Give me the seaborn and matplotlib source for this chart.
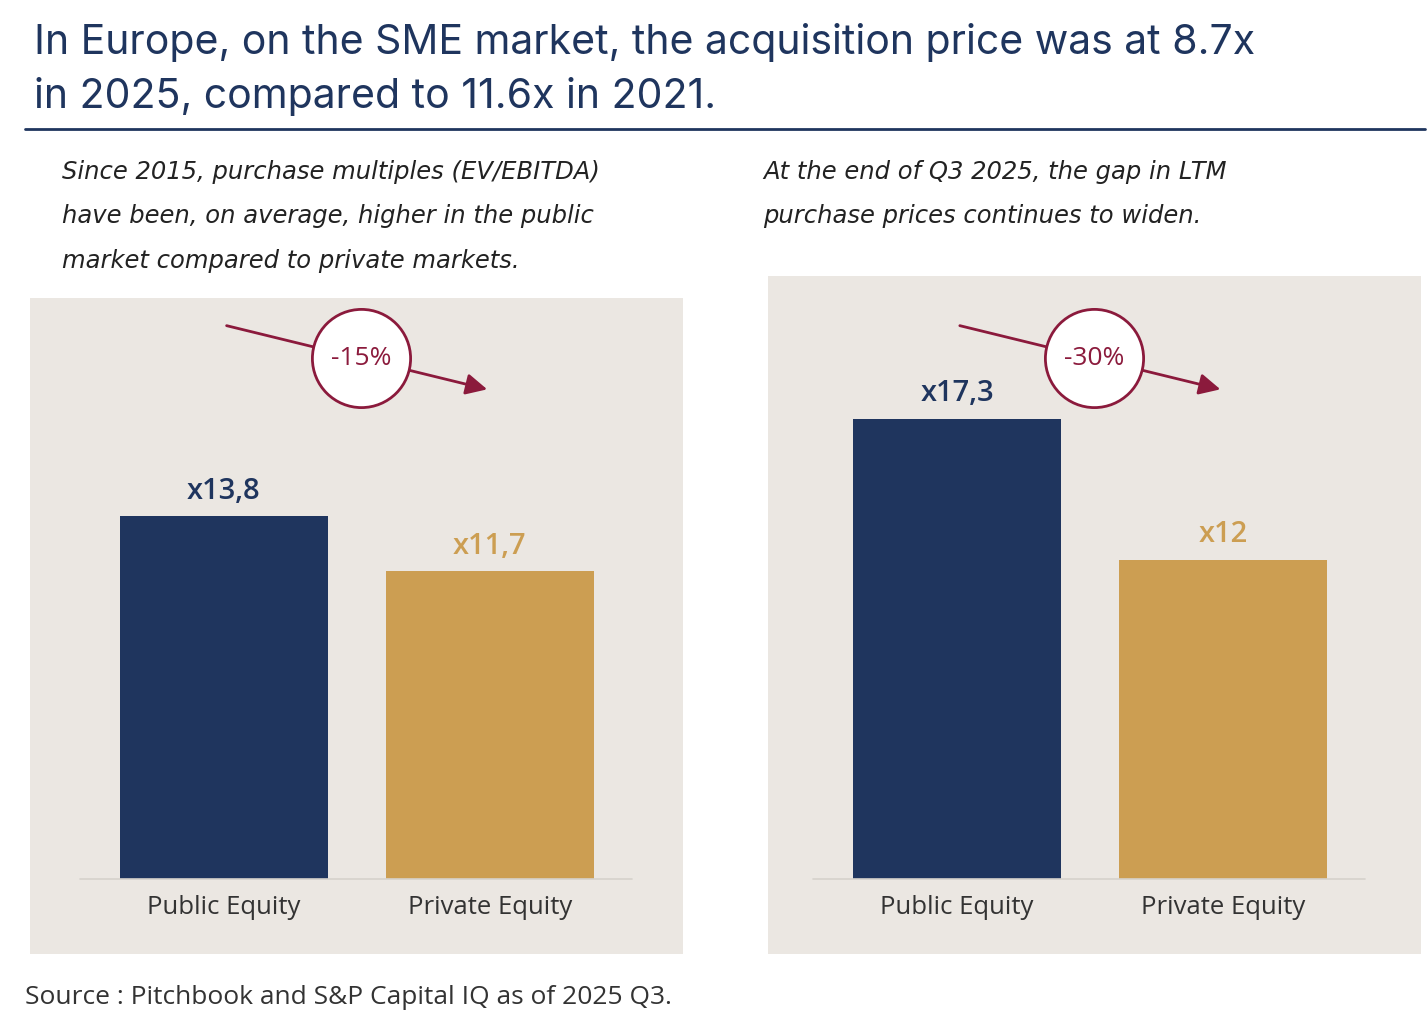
import matplotlib
matplotlib.use('Agg')
import matplotlib.pyplot as plt
import seaborn as sns
import pandas as pd

# --- data ---
categories = ['Public Equity', 'Private Equity']
left_values = [13.8, 11.7]
left_labels = ['x13,8', 'x11,7']
right_values = [17.3, 12.0]
right_labels = ['x17,3', 'x12']
left_change = '-15%'
right_change = '-30%'

navy = '#1f355e'
gold = '#cc9e52'
maroon = '#8b1a3c'
panel_bg = '#ebe7e2'

sns.set_theme(style='white')
plt.rcParams['font.family'] = ['Open Sans', 'DejaVu Sans']

W, H = 1428, 1024
fig = plt.figure(figsize=(W / 100, H / 100), dpi=100)


def px(x, y):
    return x / W, 1 - y / H


# title
fig.text(*px(34, 42), 'In Europe, on the SME market, the acquisition price was at 8.7x',
         fontsize=29.5, color=navy, va='center', family=['Inter', 'DejaVu Sans'])
fig.text(*px(34, 97), 'in 2025, compared to 11.6x in 2021.',
         fontsize=29.5, color=navy, va='center', family=['Inter', 'DejaVu Sans'])
fig.add_artist(plt.Line2D([25 / W, 1425 / W], [1 - 129 / H] * 2, color=navy, lw=2))

# subtitles
sub_font = ['DejaVu Sans']
for i, line in enumerate(['Since 2015, purchase multiples (EV/EBITDA)',
                          'have been, on average, higher in the public',
                          'market compared to private markets.']):
    fig.text(*px(62, 172 + 44.5 * i), line, fontsize=17.5, style='italic',
             color='#222222', va='center', family=sub_font)
for i, line in enumerate(['At the end of Q3 2025, the gap in LTM',
                          'purchase prices continues to widen.']):
    fig.text(*px(763, 172 + 44.5 * i), line, fontsize=17.5, style='italic',
             color='#222222', va='center', family=sub_font)


def panel(x0, x1, y0, y1, values, labels, change, scale, xl, xr):
    ax = fig.add_axes([x0 / W, 1 - y1 / H, (x1 - x0) / W, (y1 - y0) / H])
    ax.set_facecolor(panel_bg)
    df = pd.DataFrame({'cat': categories, 'val': values})
    sns.barplot(data=df, x='cat', y='val', hue='cat', palette=[navy, gold],
                width=0.78, ax=ax, legend=False, saturation=1, linewidth=0)
    ax.set_ylim(-75 / scale, (879 - y0) / scale)
    ax.set_xlim(xl, xr)
    ax.axhline(0, xmin=(-0.541 - xl) / (xr - xl), xmax=(1.534 - xl) / (xr - xl),
               color='#d6d2cc', lw=1.2)
    for i, (v, lab) in enumerate(zip(values, labels)):
        ax.text(i, v + 0.4, lab, ha='center', va='bottom', fontsize=21,
                fontweight='semibold', color=[navy, gold][i])
        ax.text(i, -28 / scale, categories[i], ha='center', va='center',
                fontsize=18.5, color='#333333')
    for s in ax.spines.values():
        s.set_visible(False)
    ax.set_xticks([])
    ax.set_yticks([])
    ax.set_xlabel('')
    ax.set_ylabel('')
    # arrow with circle
    y_start = (879 - 325) / scale
    y_end = (879 - 390) / scale
    ax.annotate('', xy=(1.0, y_end), xytext=(0.0, y_start),
                arrowprops=dict(arrowstyle='-|>', color=maroon, lw=2,
                                mutation_scale=32))
    cx = 0.515
    cy = y_start + (y_end - y_start) * cx
    ax.scatter([cx], [cy], s=5000, facecolor='white', edgecolor=maroon,
               linewidth=2, zorder=5)
    ax.text(cx, cy, change, ha='center', va='center', fontsize=19,
            color=maroon, zorder=6)
    return ax


panel(30, 683, 298, 954, left_values, left_labels, left_change, 26.3, -0.729, 1.726)
panel(768, 1421, 276, 954, right_values, right_labels, right_change, 26.6, -0.711, 1.744)

fig.text(*px(25, 998), 'Source : Pitchbook and S&P Capital IQ as of 2025 Q3.',
         fontsize=19, color='#333333', va='center')

fig.savefig('out.png', dpi=100)
